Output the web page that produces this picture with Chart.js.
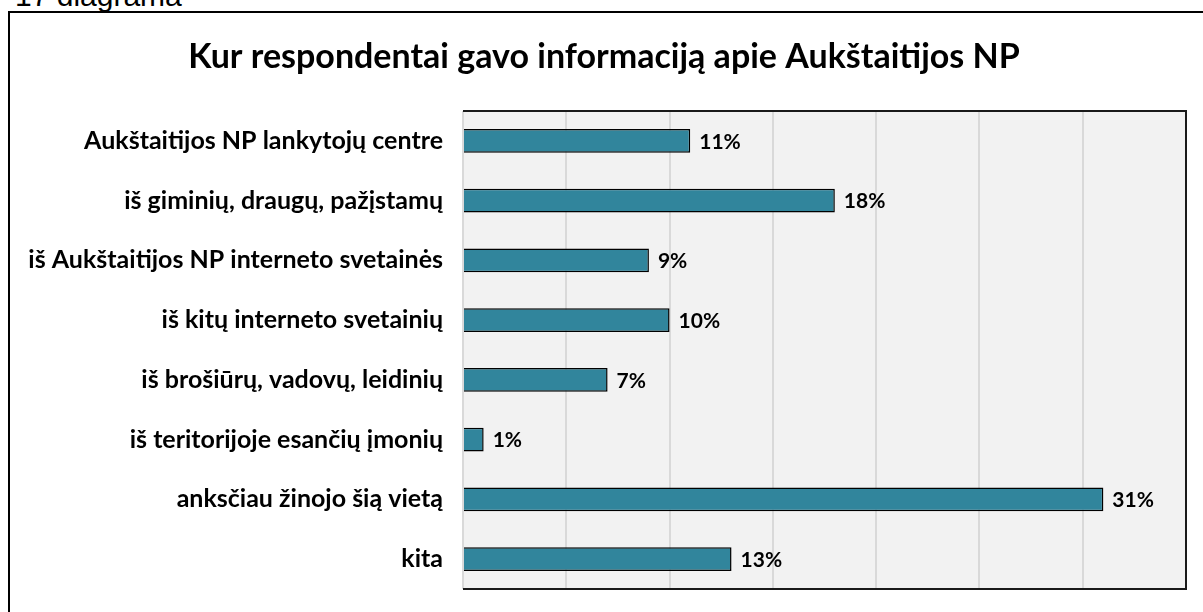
<!DOCTYPE html>
<html>
<head>
<meta charset="utf-8">
<script src="https://cdn.jsdelivr.net/npm/chart.js@4"></script>
<style>
  html, body { margin: 0; padding: 0; background: #fff; overflow: hidden; }
  #wrap { position: relative; width: 1203px; height: 612px; }
  #frame {
    position: absolute; left: 8px; top: 11px; width: 1300px; height: 700px;
    border: 2px solid #000; box-sizing: border-box;
  }
  #caption {
    position: absolute; left: 15px; top: -19px; font: 30px "Liberation Sans", Arial, sans-serif;
    line-height: 30px; color: #000; white-space: nowrap;
  }
  canvas { position: absolute; left: 0; top: 0; }
</style>
</head>
<body>
<div id="wrap">
  <div id="frame"></div>
  <div id="caption">17 diagrama</div>
  <canvas id="chart" width="1203" height="612"></canvas>
</div>
<script>
/* ===== DATA ===== */
const TITLE = "Kur respondentai gavo informaciją apie Aukštaitijos NP";
const categories = [
  "Aukštaitijos NP lankytojų centre",
  "iš giminių, draugų, pažįstamų",
  "iš Aukštaitijos NP interneto svetainės",
  "iš kitų interneto svetainių",
  "iš brošiūrų, vadovų, leidinių",
  "iš teritorijoje esančių įmonių",
  "anksčiau žinojo šią vietą",
  "kita"
];
const values = [11, 18, 9, 10, 7, 1, 31, 13];
const xMin = 0;
const xMax = 35;
const xStep = 5;

const FONT = "Lato, 'Open Sans', sans-serif";

/* ===== PLUGIN: plot background, frame, value labels, title ===== */
const plotBox = {
  id: "plotBox",
  beforeDraw(chart) {
    const { ctx, chartArea: a } = chart;
    ctx.save();
    ctx.fillStyle = "#f2f2f2";
    ctx.fillRect(a.left, a.top, a.right - a.left, a.bottom - a.top);
    ctx.restore();
  },
  afterDatasetsDraw(chart) {
    const { ctx, chartArea: a } = chart;
    ctx.save();
    // frame: top, right, bottom
    ctx.strokeStyle = "#1a1a1a";
    ctx.lineWidth = 2;
    ctx.beginPath();
    ctx.moveTo(a.left, a.top);
    ctx.lineTo(a.right, a.top);
    ctx.lineTo(a.right, a.bottom);
    ctx.lineTo(a.left, a.bottom);
    ctx.stroke();

    // value labels
    ctx.fillStyle = "#000";
    ctx.font = "bold 21px " + FONT;
    ctx.textAlign = "left";
    ctx.textBaseline = "middle";
    const meta = chart.getDatasetMeta(0);
    meta.data.forEach((bar, i) => {
      ctx.fillText(values[i] + "%", bar.x + 9, bar.y + 1);
    });

    // title
    ctx.font = "bold 34px " + FONT;
    ctx.textAlign = "center";
    ctx.fillText(TITLE, 604, 57);
    ctx.restore();
  }
};

/* ===== CHART ===== */
const ctx = document.getElementById("chart").getContext("2d");
new Chart(ctx, {
  type: "bar",
  data: {
    labels: categories,
    datasets: [{
      data: values,
      backgroundColor: "#31859c",
      borderColor: "#000",
      borderWidth: 1.5,
      barPercentage: 0.4,
      categoryPercentage: 1
    }]
  },
  options: {
    indexAxis: "y",
    responsive: false,
    animation: false,
    devicePixelRatio: 1,
    layout: { padding: { top: 111, right: 17, bottom: 23, left: 0 } },
    plugins: {
      legend: { display: false },
      title: { display: false },
      tooltip: { enabled: false }
    },
    scales: {
      x: {
        min: xMin,
        max: xMax,
        afterFit(scale) { scale.height = 0; },
        ticks: { display: false, stepSize: xStep },
        grid: { color: "#d9d9d9", lineWidth: 2, drawTicks: false },
        border: { display: false }
      },
      y: {
        afterFit(scale) {
          scale.width = 463;
          scale.paddingTop = 0;
          scale.paddingBottom = 0;
        },
        ticks: {
          color: "#000",
          padding: 20,
          font: { family: FONT, size: 25, weight: "bold" }
        },
        grid: { display: false, drawTicks: false },
        border: { display: false }
      }
    }
  },
  plugins: [plotBox]
});
</script>
</body>
</html>
